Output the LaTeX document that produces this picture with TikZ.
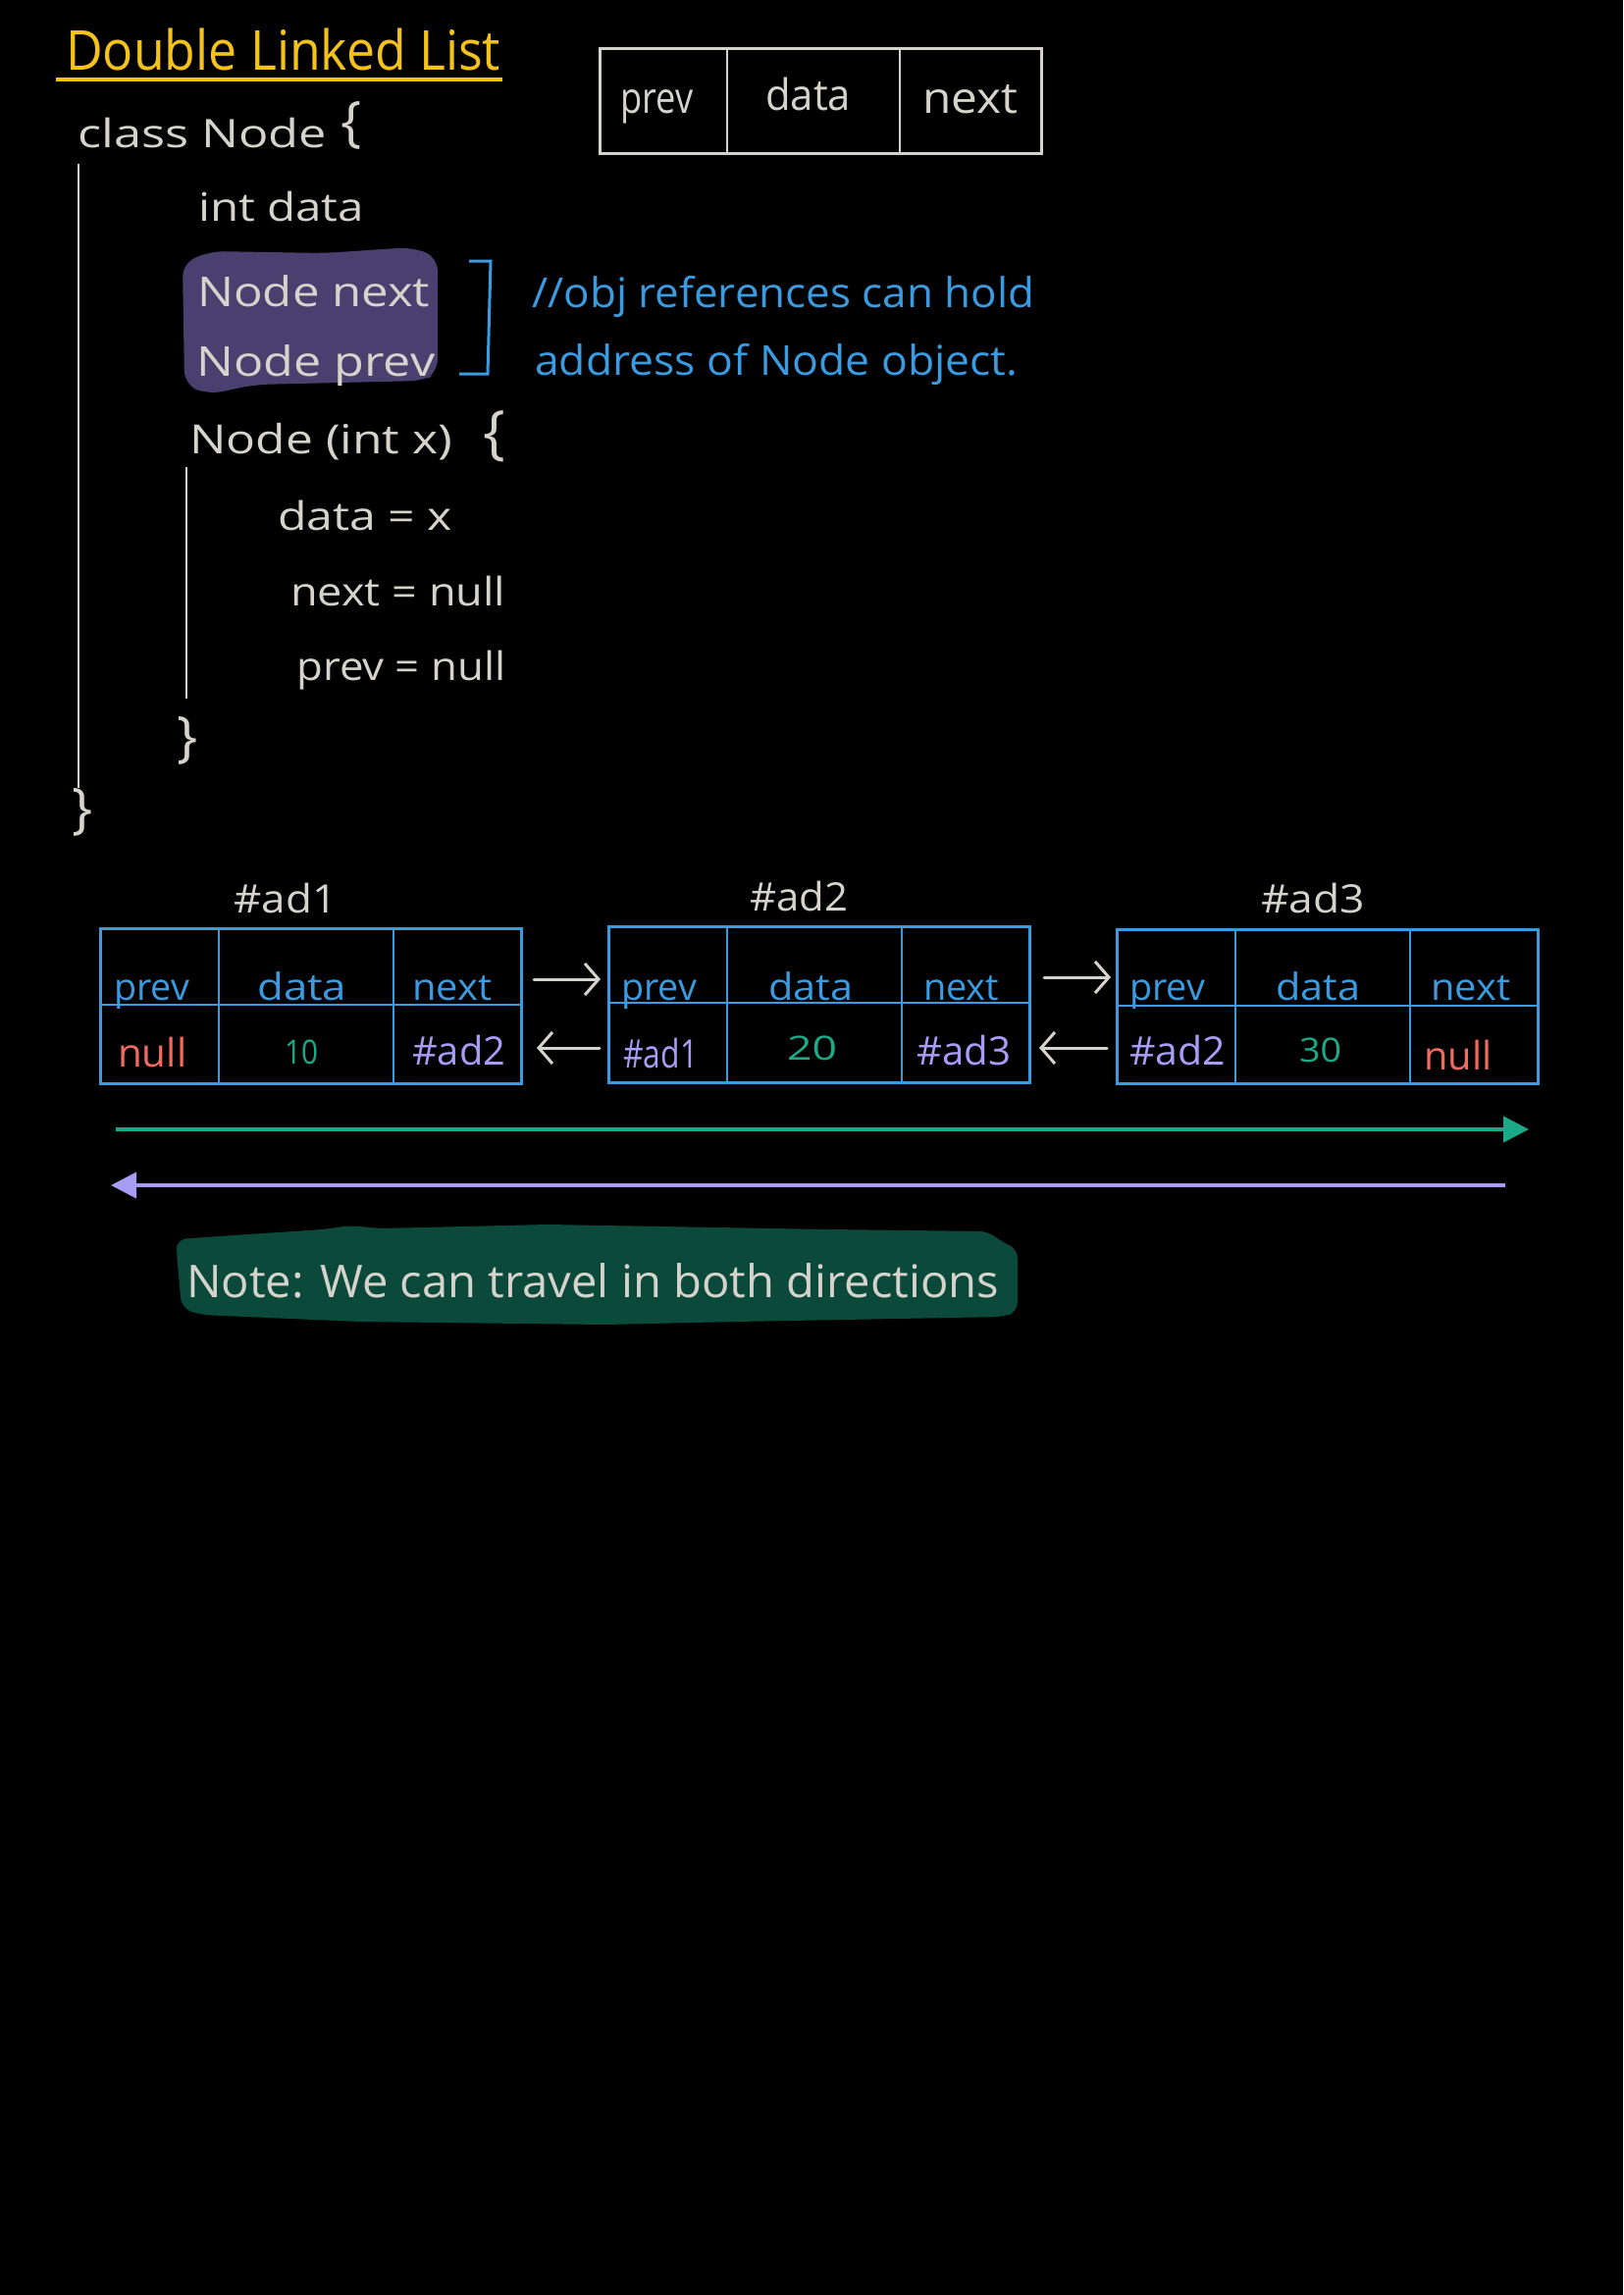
\documentclass[tikz,border=0pt]{standalone}
\usepackage{fontspec}
\setmainfont{Open Sans}[Numbers=Lining]
\usetikzlibrary{arrows.meta,calc}
\definecolor{chalk}{HTML}{D6D3CC}
\definecolor{gold}{HTML}{F4C21B}
\definecolor{sky}{HTML}{3A9BE0}
\definecolor{hlpurple}{HTML}{4A4070}
\definecolor{tealg}{HTML}{1BAA88}
\definecolor{lav}{HTML}{A99CF6}
\definecolor{redd}{HTML}{F06A5E}
\definecolor{notebg}{HTML}{0B4A3B}
\newcommand\fw[2]{\resizebox{#1pt}{\height}{#2}}
\newcommand\fsz[1]{\fontsize{#1}{#1}\selectfont}
\begin{document}
\begin{tikzpicture}[x=1pt,y=-1pt,
  txt/.style={anchor=base west, inner sep=0pt, text=chalk, font=\fsz{40}},
  celltxt/.style={txt, text=sky, font=\fsz{38}},
  valtxt/.style={txt, font=\fsz{40}},
  digtxt/.style={txt, text=tealg, font=\fsz{34}},
  bracetxt/.style={anchor=center, inner sep=0pt, text=chalk},
  listbox/.style={draw=sky, line width=3pt, minimum width=429pt, inner sep=0pt, anchor=north west},
  skyline/.style={draw=sky, line width=2.5pt},
  chalkline/.style={draw=chalk, line width=2.5pt},
  arr/.style={draw=chalk, line width=3pt, line cap=round, -{Straight Barb[length=14pt,width=32pt]}},
  longarr/.style={line width=4pt, -{Triangle[length=26pt,width=26pt]}}]
\fill[black] (0,0) rectangle (1654,2339);
\path[use as bounding box] (0,0) rectangle (1654,2339);

% ---- title
\node[txt, text=gold, font=\fsz{56}] (title) at (67,72) {\fw{443}{Double Linked List}};
\draw[gold, line width=3.5pt] (57,81) -- (512,81);

% ---- top node diagram
\node[draw=chalk, line width=3pt, minimum width=450pt, minimum height=107pt, inner sep=0pt, anchor=north west] (tb) at (610,48) {};
\draw[chalkline] ($(tb.north west)+(131,0)$) -- ($(tb.south west)+(131,0)$);
\draw[chalkline] ($(tb.north west)+(307,0)$) -- ($(tb.south west)+(307,0)$);
\node[txt, font=\fsz{44}] (tbprev) at (632,116) {\fw{74}{prev}};
\node[txt, font=\fsz{44}] (tbdata) at (780,113) {\fw{87}{data}};
\node[txt, font=\fsz{44}] (tbnext) at (940,116) {\fw{97}{next}};

% ---- class code
\fill[hlpurple, rounded corners=14pt] (186,268) -- (215,256) -- (330,258) -- (420,252) -- (446,262) -- (446,380) -- (432,388) -- (260,392) -- (212,402) -- (188,392) -- cycle;
\node[txt] (cls) at (79,150) {\fw{254}{class Node}};
\node[bracetxt, font=\fsz{56}] (ob1) at (358,128) {\{};
\node[txt] (intdata) at (202,225) {\fw{169}{int data}};
\node[txt, font=\fsz{42}] (nnext) at (201,312) {\fw{237}{Node next}};
\node[txt, font=\fsz{42}] (nprev) at (200,383) {\fw{243}{Node prev}};
\draw[sky, line width=3pt] (478,266) -- (500,266) -- (497,381) -- (468,381);
\node[txt, text=sky, font=\fsz{42}] (cm1) at (542,313) {\fw{512}{//obj references can hold}};
\node[txt, text=sky, font=\fsz{42}] (cm2) at (545,382) {\fw{492}{address of Node object.}};
\node[txt, font=\fsz{41}] (ctor) at (193,462) {\fw{268}{Node (int x)}};
\node[bracetxt, font=\fsz{60}] (ob2) at (504,445) {\{};
\node[txt] (l1) at (283,540) {\fw{178}{data = x}};
\node[txt] (l2) at (296,617) {\fw{219}{next = null}};
\node[txt] (l3) at (302,693) {\fw{213}{prev = null}};
\node[bracetxt, font=\fsz{56}] (cb2) at (191,755) {\}};
\node[bracetxt, font=\fsz{56}] (cb1) at (84,828) {\}};
\coordinate (vo1) at (80,167);
\coordinate (vo2) at (80,803);
\coordinate (vi1) at (190,476);
\coordinate (vi2) at (190,712);
\draw[chalkline] (vo1) -- (vo2);
\draw[chalkline] (vi1) -- (vi2);

% ---- linked list
\node[txt] (ad1) at (238,930) {\fw{105}{\#ad1}};
\node[txt] (ad2) at (764,928) {\fw{100}{\#ad2}};
\node[txt] (ad3) at (1285,930) {\fw{106}{\#ad3}};
\node[listbox, minimum height=158pt] (b1) at (101,945) {};
\node[listbox, minimum height=159pt] (b2) at (619,943) {};
\node[listbox, minimum height=157pt] (b3) at (1137,946) {};
\foreach \b in {b1,b2,b3} {
  \draw[skyline] ($(\b.north west)+(122,0)$) -- ($(\b.south west)+(122,0)$);
  \draw[skyline] ($(\b.north west)+(300,0)$) -- ($(\b.south west)+(300,0)$);
  \draw[skyline] ($(\b.north west)+(0,79)$) -- ($(\b.north east)+(0,79)$);
}
\node[celltxt] (p1) at (116,1019) {\fw{77}{prev}};
\node[celltxt] (d1) at (262,1019) {\fw{91}{data}};
\node[celltxt] (n1) at (420,1019) {\fw{81}{next}};
\node[celltxt] (p2) at (633,1019) {\fw{77}{prev}};
\node[celltxt] (d2) at (783,1019) {\fw{86}{data}};
\node[celltxt] (n2) at (941,1019) {\fw{77}{next}};
\node[celltxt] (p3) at (1151,1019) {\fw{77}{prev}};
\node[celltxt] (d3) at (1300,1019) {\fw{86}{data}};
\node[celltxt] (n3) at (1458,1019) {\fw{81}{next}};

\node[valtxt, text=redd] (v1p) at (120,1087) {\fw{70}{null}};
\node[digtxt] (v1d) at (290,1084) {\fw{34}{10}};
\node[valtxt, text=lav] (v1n) at (420,1085) {\fw{95}{\#ad2}};
\node[valtxt, text=lav] (v2p) at (635,1088) {\fw{76}{\#ad1}};
\node[digtxt] (v2d) at (802,1080) {\fw{51}{20}};
\node[valtxt, text=lav] (v2n) at (934,1085) {\fw{96}{\#ad3}};
\node[valtxt, text=lav] (v3p) at (1151,1085) {\fw{98}{\#ad2}};
\node[digtxt] (v3d) at (1324,1082) {\fw{43}{30}};
\node[valtxt, text=redd] (v3n) at (1451,1090) {\fw{69}{null}};

\draw[arr] ($(b1.north east)+(11,53)$) -- ($(b2.north west)+(-7,55)$);
\draw[arr] ($(b2.north east)+(13,53)$) -- ($(b3.north west)+(-5,50)$);
\draw[arr] ($(b2.north west)+(-8,125)$) -- ($(b1.north east)+(14,123)$);
\draw[arr] ($(b3.north west)+(-9,122)$) -- ($(b2.north east)+(8,125)$);

% ---- direction arrows
\coordinate (ga1) at (118,1151);
\coordinate (ga2) at (1558,1151);
\coordinate (pa1) at (1534,1208);
\coordinate (pa2) at (113,1208);
\draw[longarr, draw=tealg, fill=tealg] (ga1) -- (ga2);
\draw[longarr, draw=lav, fill=lav] (pa1) -- (pa2);

% ---- note
\fill[notebg, rounded corners=10pt] (180,1263) -- (223,1260) -- (329,1253) -- (357,1249) -- (386,1252) -- (558,1248) -- (845,1253) -- (1008,1255) -- (1022,1267) -- (1037,1272) -- (1037,1337) -- (1022,1342) -- (750,1347) -- (616,1350) -- (367,1347) -- (204,1340) -- (185,1333) -- (180,1277) -- cycle;
\node[txt, font=\fsz{46}] (note) at (190,1322) {\fw{828}{Note: We can travel in both directions}};
\end{tikzpicture}
\end{document}
